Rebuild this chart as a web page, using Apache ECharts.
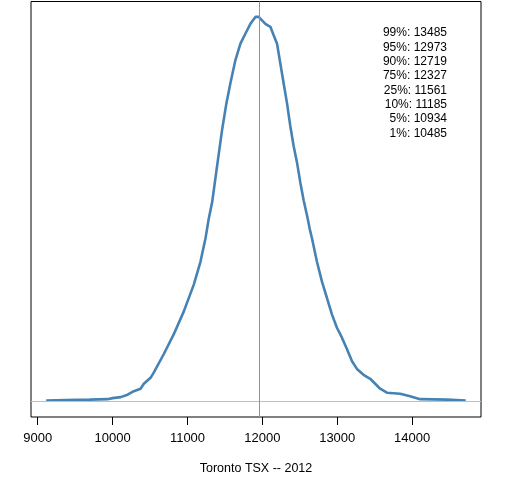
<!DOCTYPE html>
<html>

	<head>
		<meta charset="UTF-8">
		<title>Toronto TSX -- 2012</title>
		<script src="https://cdn.jsdelivr.net/npm/echarts@6.0.0/dist/echarts.min.js"></script>
		<style>
			html, body { margin: 0; padding: 0; background: #fff; }
		</style>
	</head>

	<body>
		<div id="main" style="width: 512px;height:480px;"></div>
		<script type="text/javascript">
			// index level (x) and density (y, in units of 1e-4)
			var tsxLevel = [9113, 9373, 9693, 9933, 10000, 10107, 10200, 10284, 10373, 10417,
				10507, 10551, 10684, 10817, 10951, 11084, 11173, 11240, 11284, 11329,
				11396, 11463, 11520, 11573, 11640, 11707, 11773, 11840, 11907, 11951,
				11973, 12040, 12107, 12151, 12196, 12240, 12284, 12329, 12373, 12417,
				12463, 12507, 12551, 12596, 12633, 12663, 12729, 12796, 12863, 12929,
				12996, 13063, 13129, 13196, 13263, 13351, 13440, 13507, 13573, 13663,
				13840, 13973, 14107, 14463, 14716];
			var density = [0.019, 0.028, 0.037, 0.046, 0.065, 0.084, 0.13, 0.195, 0.24, 0.334,
				0.445, 0.547, 0.891, 1.262, 1.689, 2.19, 2.617, 3.053, 3.424, 3.73,
				4.417, 5.094, 5.586, 5.957, 6.393, 6.699, 6.885, 7.07, 7.2, 7.2,
				7.163, 7.07, 7.015, 6.857, 6.699, 6.328, 5.957, 5.586, 5.159, 4.788,
				4.472, 4.101, 3.767, 3.489, 3.229, 3.053, 2.617, 2.245, 1.939, 1.633,
				1.382, 1.197, 0.984, 0.761, 0.612, 0.501, 0.427, 0.334, 0.241, 0.167,
				0.148, 0.102, 0.046, 0.037, 0.019];
			var xTicks = [9000, 10000, 11000, 12000, 13000, 14000];
			var centerLevel = 11963;
			var quantileNames = ['99%', '95%', '90%', '75%', '25%', '10%', '5%', '1%'];
			var quantileValues = [13485, 12973, 12719, 12327, 11561, 11185, 10934, 10485];

			var points = tsxLevel.map(function(x, i) {
				return [x, density[i]];
			});
			var quantileText = quantileNames.map(function(n, i) {
				return n + ': ' + quantileValues[i];
			}).join('\n');

			var myChart = echarts.init(document.getElementById('main'));
			myChart.setOption({
				animation: false,
				backgroundColor: '#fff',
				textStyle: {
					fontFamily: 'Liberation Sans, Arial, sans-serif'
				},
				grid: {
					show: true,
					left: 31,
					right: 31,
					top: 1.5,
					bottom: 60,
					borderColor: '#000',
					borderWidth: 1
				},
				xAxis: {
					type: 'value',
					min: 8910,
					max: 14920,
					name: 'Toronto TSX -- 2012',
					nameLocation: 'middle',
					nameGap: 45,
					nameTextStyle: {
						color: '#000',
						fontSize: 12.5
					},
					axisLine: { show: false, onZero: false },
					splitLine: { show: false },
					axisTick: {
						show: true,
						length: 8,
						customValues: xTicks,
						lineStyle: { color: '#000', width: 1 }
					},
					axisLabel: {
						customValues: xTicks,
						color: '#000',
						fontSize: 13,
						margin: 15,
						formatter: function(v) {
							return String(v);
						}
					}
				},
				yAxis: {
					type: 'value',
					min: -0.288,
					max: 7.488,
					show: false,
					splitLine: { show: false }
				},
				graphic: [{
					type: 'text',
					x: 447,
					y: 26,
					style: {
						text: quantileText,
						fill: '#000',
						font: '12px "Liberation Sans", Arial, sans-serif',
						align: 'right',
						verticalAlign: 'top',
						lineHeight: 14.3
					}
				}],
				series: [{
					// reference lines
					type: 'line',
					data: [],
					silent: true,
					markLine: {
						silent: true,
						symbol: 'none',
						label: { show: false },
						data: [{
							yAxis: 0,
							lineStyle: { color: '#bebebe', width: 1, type: 'solid' }
						}, {
							xAxis: centerLevel,
							lineStyle: { color: '#11ee11', width: 1, type: 'solid' }
						}]
					}
				}, {
					type: 'line',
					data: points,
					showSymbol: false,
					smooth: false,
					lineStyle: { color: '#4682b4', width: 2.6 },
					itemStyle: { color: '#4682b4' }
				}]
			});
		</script>

	</body>

</html>
